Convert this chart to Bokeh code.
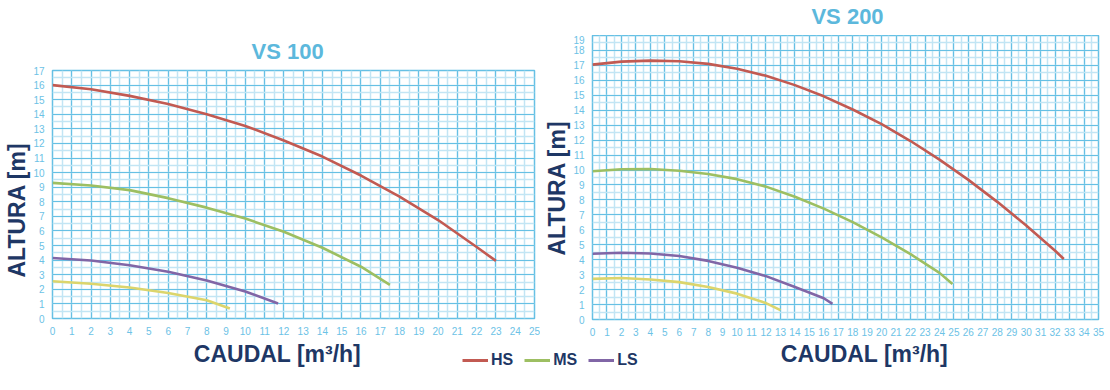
from bokeh.plotting import figure
from bokeh.models import (Range1d, SingleIntervalTicker, Label, Legend, LegendItem, Title, Spacer)
from bokeh.layouts import column, row
from bokeh.embed import file_html
from bokeh.resources import INLINE

# ---------------- data ----------------
vs100_hs_x = [0, 2, 4, 6, 8, 10, 12, 14, 16, 18, 20, 22, 23]
vs100_hs_y = [16.0, 15.72, 15.26, 14.7, 14.0, 13.2, 12.2, 11.1, 9.8, 8.35, 6.75, 4.9, 3.95]
vs100_ms_x = [0, 2, 4, 6, 8, 10, 12, 14, 16, 17.5]
vs100_ms_y = [9.3, 9.12, 8.8, 8.25, 7.6, 6.85, 5.95, 4.85, 3.55, 2.3]
vs100_ls_x = [0, 2, 4, 6, 8, 10, 11.7]
vs100_ls_y = [4.15, 3.98, 3.65, 3.2, 2.6, 1.85, 1.03]
vs100_low_x = [0, 2, 4, 6, 8, 9.2]
vs100_low_y = [2.55, 2.38, 2.12, 1.75, 1.25, 0.68]

vs200_hs_x = [0, 2, 4, 6, 8, 10, 12, 14, 16, 18, 20, 22, 24, 26, 28, 30, 32, 32.6]
vs200_hs_y = [17.05, 17.25, 17.32, 17.28, 17.1, 16.78, 16.3, 15.68, 14.93, 14.05, 13.07,
              11.94, 10.7, 9.34, 7.87, 6.29, 4.6, 4.05]
vs200_ms_x = [0, 2, 4, 6, 8, 10, 12, 14, 16, 18, 20, 22, 24, 24.9]
vs200_ms_y = [9.92, 10.05, 10.07, 9.95, 9.73, 9.39, 8.89, 8.21, 7.42, 6.51, 5.5, 4.37, 3.12, 2.37]
vs200_ls_x = [0, 2, 4, 6, 8, 10, 12, 14, 16, 16.6]
vs200_ls_y = [4.4, 4.47, 4.42, 4.25, 3.92, 3.46, 2.9, 2.17, 1.42, 1.04]
vs200_low_x = [0, 2, 4, 6, 8, 10, 12, 13]
vs200_low_y = [2.72, 2.78, 2.68, 2.5, 2.18, 1.73, 1.1, 0.63]

series_names = ["HS", "MS", "LS"]
titles = ["VS 100", "VS 200"]
x_label = "CAUDAL [m³/h]"
y_label = "ALTURA [m]"

# ---------------- style ----------------
C_HS = "#c25a52"
C_MS = "#9dbf62"
C_LS = "#8166a6"
C_LOW = "#dcd56c"
NAVY = "#1e3765"
TITLE_BLUE = "#5cb8dc"
TICK_BLUE = "#6cc2e6"
GRID_MAJOR = "#66c0e4"
GRID_MINOR = "#c2e5f4"
FONT = "Liberation Sans"


def blank_figure(width, height, x_range, y_range, bl=0, br=0):
    f = figure(width=width, height=height, output_backend="svg", toolbar_location=None,
               x_range=x_range, y_range=y_range, x_axis_type=None, y_axis_type=None,
               min_border_left=bl, min_border_right=br, min_border_top=0, min_border_bottom=0)
    f.outline_line_color = None
    f.xgrid.visible = False
    f.ygrid.visible = False
    return f


def make_chart(width, height, xmax, ymax, bl, br, bt, bb, ylab_offset):
    p = figure(width=width, height=height, output_backend="svg", toolbar_location=None,
               x_range=Range1d(0, xmax), y_range=Range1d(0, ymax),
               min_border_left=bl, min_border_right=br,
               min_border_top=bt, min_border_bottom=bb)
    for ax, g in ((p.xaxis[0], p.xgrid[0]), (p.yaxis[0], p.ygrid[0])):
        t = SingleIntervalTicker(interval=1, num_minor_ticks=2)
        ax.ticker = t
        g.ticker = t
        ax.axis_line_color = None
        ax.major_tick_line_color = None
        ax.minor_tick_line_color = None
        ax.major_tick_out = 0
        ax.major_tick_in = 0
        ax.major_label_standoff = 4
        ax.major_label_text_font = FONT
        ax.major_label_text_font_size = "10px"
        ax.major_label_text_color = TICK_BLUE
        g.grid_line_color = GRID_MAJOR
        g.grid_line_width = 1.2
        g.minor_grid_line_color = GRID_MINOR
        g.minor_grid_line_width = 1.5
        g.level = "underlay"
    p.outline_line_color = GRID_MAJOR
    p.outline_line_width = 1.5
    p.background_fill_color = "white"
    p.border_fill_color = "white"
    p.add_layout(Title(text=y_label, align="left", offset=ylab_offset, text_font=FONT,
                       text_font_size="23px", text_font_style="bold", text_color=NAVY,
                       standoff=2), "left")
    return p


def style_title(t, offset, standoff):
    t.align = "left"
    t.offset = offset
    t.text_font = FONT
    t.text_font_size = "22px"
    t.text_font_style = "bold"
    t.text_color = TITLE_BLUE
    t.standoff = standoff


# ---- left chart VS 100 (frame top 70 on the page) ----
p1 = make_chart(540, 308, 25, 17, 49, 6, 40, 20, 41)
p1.title.text = titles[0]
style_title(p1.title, 199, 13)
p1.line(vs100_hs_x, vs100_hs_y, line_color=C_HS, line_width=2.6)
p1.line(vs100_ms_x, vs100_ms_y, line_color=C_MS, line_width=2.6)
p1.line(vs100_ls_x, vs100_ls_y, line_color=C_LS, line_width=2.6)
p1.line(vs100_low_x, vs100_low_y, line_color=C_LOW, line_width=2.6)

# ---- right chart VS 200 (frame top ~39 on the page) ----
p2 = make_chart(570, 303, 35, 19, 49, 12, 0, 19, 64)
p2.title = None
p2.line(vs200_hs_x, vs200_hs_y, line_color=C_HS, line_width=2.6)
p2.line(vs200_ms_x, vs200_ms_y, line_color=C_MS, line_width=2.6)
p2.line(vs200_ls_x, vs200_ls_y, line_color=C_LS, line_width=2.6)
p2.line(vs200_low_x, vs200_low_y, line_color=C_LOW, line_width=2.6)

# title band above the right chart (same x scale as the chart)
t2 = blank_figure(570, 35, p2.x_range, Range1d(0, 35), bl=49, br=12)
t2.add_layout(Label(x=17.64, y=19, text=titles[1], text_font=FONT, text_font_size="22px",
                    text_font_style="bold", text_color=TITLE_BLUE,
                    text_align="center", text_baseline="middle"))

# ---- bottom strip: x labels + legend ----
strip = blank_figure(1110, 52, Range1d(0, 1110), Range1d(0, 52))
for cx in (277, 864):
    strip.add_layout(Label(x=cx, y=37, text=x_label, text_font=FONT, text_font_size="23px",
                           text_font_style="bold", text_color=NAVY,
                           text_align="center", text_baseline="middle"))

# legend renderers: the VS 100 series drawn on an off-screen range (only the legend shows)
strip.extra_y_ranges = {"off": Range1d(1000, 1001)}
items = []
for name, col, xs, ys in zip(series_names, [C_HS, C_MS, C_LS],
                             [vs100_hs_x, vs100_ms_x, vs100_ls_x],
                             [vs100_hs_y, vs100_ms_y, vs100_ls_y]):
    r = strip.line(xs, ys, line_color=col, line_width=3, y_range_name="off")
    items.append(LegendItem(label=name, renderers=[r]))
legend = Legend(items=items, orientation="horizontal", location=(462, 20),
                glyph_width=26, glyph_height=20, label_standoff=3, spacing=11,
                padding=0, margin=0, border_line_color=None, background_fill_alpha=0,
                label_text_font=FONT, label_text_font_size="16px",
                label_text_font_style="bold", label_text_color=NAVY)
strip.add_layout(legend)

left_col = column(Spacer(width=540, height=30), p1)
right_col = column(t2, p2)
layout = column(row(left_col, right_col), strip)
open("out.html", "w").write(file_html(layout, INLINE))
